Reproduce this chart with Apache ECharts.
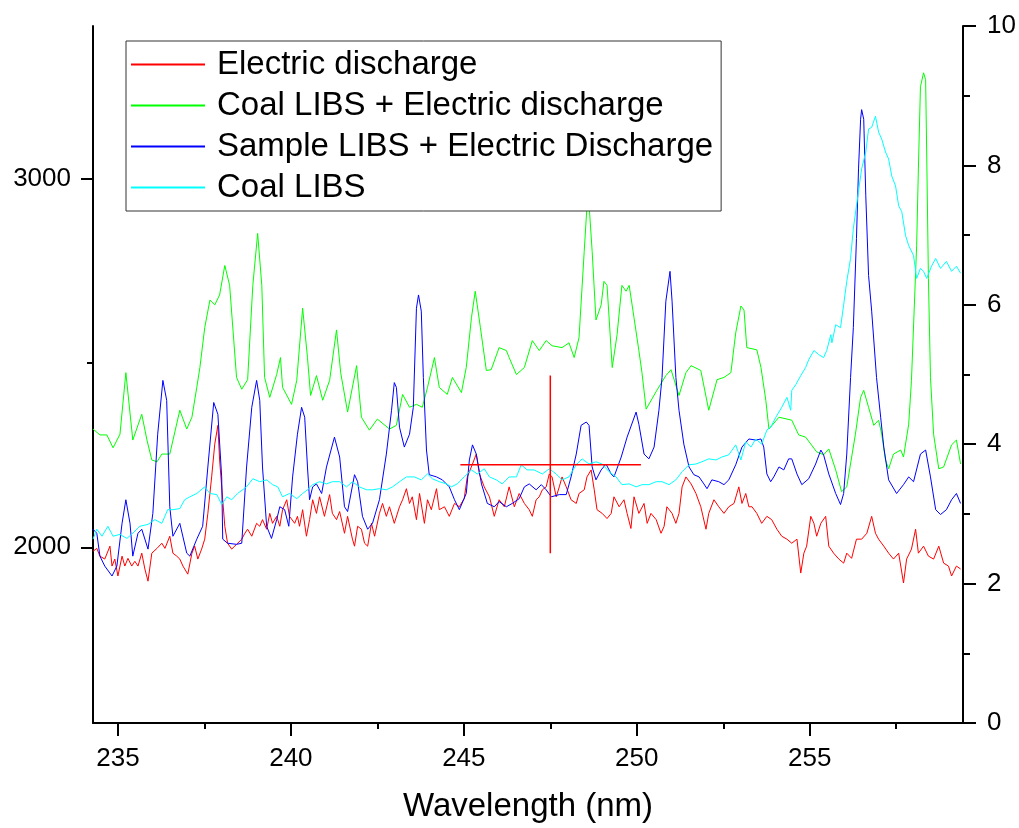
<!DOCTYPE html>
<html>
<head>
<meta charset="utf-8">
<script src="https://cdn.jsdelivr.net/npm/echarts@6/dist/echarts.min.js"></script>
<style>html,body{margin:0;padding:0;background:#fff}#c{width:1019px;height:828px}</style>
</head>
<body>
<div id="c"></div>
<script>
const seriesNames = ['Electric discharge','Coal LIBS + Electric discharge','Sample LIBS + Electric Discharge','Coal LIBS'];
const xLabelValues = [235,240,245,250,255];
const xMinorTickValues = [237.5,242.5,247.5,252.5,257.5];
const yLeftLabelValues = [2000,3000];
const yLeftMinorTickValues = [2500];

const electricDischarge = [[234.28,1989],[234.39,1997],[234.48,1976],[234.62,1968],[234.77,2003],[234.83,1949],[234.91,1968],[235.00,1922],[235.12,1976],[235.20,1949],[235.29,1970],[235.40,1949],[235.49,1962],[235.58,1949],[235.69,1984],[235.78,1941],[235.87,1908],[235.98,1984],[236.13,1997],[236.27,2011],[236.36,1997],[236.50,2030],[236.59,1984],[236.70,1976],[236.79,1968],[236.88,1949],[237.02,1927],[237.14,1984],[237.22,2003],[237.31,1968],[237.42,1995],[237.51,2022],[237.60,2092],[237.71,2191],[237.80,2280],[237.89,2331],[237.94,2237],[238.03,2129],[238.09,2057],[238.17,2011],[238.29,1995],[238.43,2008],[238.58,2022],[238.67,2038],[238.75,2049],[238.87,2030],[239.01,2065],[239.10,2057],[239.18,2075],[239.30,2049],[239.39,2092],[239.47,2065],[239.59,2084],[239.68,2057],[239.76,2102],[239.88,2129],[239.96,2084],[240.11,2065],[240.19,2084],[240.25,2057],[240.34,2102],[240.45,2030],[240.54,2075],[240.63,2129],[240.74,2092],[240.83,2137],[240.97,2084],[241.12,2143],[241.20,2092],[241.32,2075],[241.41,2097],[241.55,2038],[241.64,2084],[241.78,2022],[241.84,2003],[241.93,2057],[242.04,2049],[242.13,2011],[242.22,2003],[242.33,2065],[242.42,2030],[242.56,2092],[242.65,2119],[242.76,2084],[242.85,2110],[242.99,2065],[243.14,2110],[243.23,2129],[243.34,2159],[243.43,2119],[243.51,2137],[243.63,2075],[243.72,2146],[243.86,2065],[243.95,2129],[244.06,2102],[244.21,2159],[244.29,2102],[244.44,2110],[244.58,2084],[244.73,2119],[244.87,2110],[245.01,2132],[245.10,2191],[245.25,2226],[245.36,2253],[245.45,2199],[245.59,2164],[245.74,2137],[245.88,2084],[246.02,2129],[246.17,2110],[246.31,2164],[246.46,2110],[246.60,2146],[246.75,2119],[246.89,2102],[246.98,2084],[247.09,2129],[247.18,2137],[247.27,2156],[247.38,2164],[247.47,2199],[247.55,2191],[247.67,2137],[247.76,2164],[247.84,2191],[247.96,2164],[248.10,2129],[248.25,2119],[248.33,2146],[248.48,2156],[248.56,2191],[248.68,2210],[248.77,2156],[248.85,2102],[249.00,2092],[249.14,2078],[249.26,2092],[249.34,2137],[249.49,2110],[249.63,2129],[249.72,2092],[249.83,2051],[249.92,2137],[250.06,2092],[250.21,2119],[250.30,2065],[250.41,2092],[250.56,2075],[250.70,2038],[250.79,2057],[250.87,2110],[251.02,2092],[251.13,2065],[251.22,2092],[251.31,2164],[251.42,2191],[251.57,2172],[251.71,2146],[251.85,2110],[252.00,2049],[252.08,2092],[252.23,2129],[252.37,2110],[252.52,2092],[252.66,2110],[252.81,2119],[252.95,2164],[253.04,2119],[253.15,2146],[253.24,2110],[253.33,2110],[253.47,2092],[253.61,2065],[253.76,2084],[253.90,2075],[254.05,2049],[254.19,2030],[254.34,2022],[254.48,2011],[254.63,2022],[254.74,1930],[254.83,1984],[254.91,2003],[255.03,2084],[255.12,2065],[255.20,2030],[255.32,2065],[255.46,2084],[255.55,2003],[255.69,1984],[255.84,1968],[255.98,1957],[256.07,1984],[256.21,1970],[256.35,2022],[256.50,2022],[256.65,2038],[256.79,2084],[256.90,2038],[256.99,2022],[257.14,2003],[257.28,1984],[257.42,1968],[257.57,1984],[257.71,1903],[257.80,1968],[257.94,1995],[258.06,2049],[258.14,1984],[258.29,2003],[258.43,1976],[258.58,1968],[258.73,2003],[258.87,1957],[259.01,1949],[259.10,1922],[259.24,1949],[259.36,1941]];

const coalLibsDischarge = [[234.28,2321],[234.48,2305],[234.68,2305],[234.86,2270],[235.06,2307],[235.23,2474],[235.43,2291],[235.69,2361],[235.84,2291],[235.98,2237],[236.13,2232],[236.27,2253],[236.50,2253],[236.79,2372],[236.99,2321],[237.14,2353],[237.28,2434],[237.37,2488],[237.51,2596],[237.66,2671],[237.80,2658],[237.94,2685],[238.09,2765],[238.23,2711],[238.43,2461],[238.58,2429],[238.75,2455],[238.90,2711],[239.04,2852],[239.16,2711],[239.24,2461],[239.39,2407],[239.59,2469],[239.70,2515],[239.76,2434],[240.02,2388],[240.17,2453],[240.34,2649],[240.48,2515],[240.57,2412],[240.74,2466],[240.92,2399],[241.12,2453],[241.32,2590],[241.44,2474],[241.64,2367],[241.90,2493],[242.04,2353],[242.27,2318],[242.50,2348],[242.85,2321],[243.05,2331],[243.23,2415],[243.43,2380],[243.63,2388],[243.80,2380],[243.95,2434],[244.15,2515],[244.29,2434],[244.52,2415],[244.67,2461],[244.93,2420],[245.07,2488],[245.22,2623],[245.33,2695],[245.48,2596],[245.65,2480],[245.79,2482],[246.02,2542],[246.23,2534],[246.31,2515],[246.52,2469],[246.75,2488],[246.98,2561],[247.18,2534],[247.38,2561],[247.55,2547],[247.84,2542],[248.04,2555],[248.19,2515],[248.33,2569],[248.48,2803],[248.59,2973],[248.71,2803],[248.82,2617],[248.97,2658],[249.05,2722],[249.14,2711],[249.29,2488],[249.43,2577],[249.57,2711],[249.69,2695],[249.78,2711],[249.92,2623],[250.06,2534],[250.15,2474],[250.27,2375],[250.58,2426],[250.84,2466],[250.99,2482],[251.22,2412],[251.42,2474],[251.57,2493],[251.85,2480],[252.08,2372],[252.32,2455],[252.52,2461],[252.72,2474],[252.86,2582],[253.01,2655],[253.10,2644],[253.18,2542],[253.47,2536],[253.59,2488],[253.73,2399],[253.82,2321],[254.11,2353],[254.48,2345],[254.68,2305],[254.88,2299],[255.20,2259],[255.40,2251],[255.55,2267],[255.75,2210],[255.92,2151],[256.07,2164],[256.32,2307],[256.47,2407],[256.56,2426],[256.70,2380],[256.85,2331],[256.99,2345],[257.08,2307],[257.19,2237],[257.28,2213],[257.42,2253],[257.63,2264],[257.71,2245],[257.86,2334],[257.94,2453],[258.09,2819],[258.14,3027],[258.20,3250],[258.29,3288],[258.35,3269],[258.38,3073],[258.43,2730],[258.49,2461],[258.58,2307],[258.73,2213],[258.87,2218],[259.10,2278],[259.24,2291],[259.36,2226]];

const sampleLibsDischarge = [[234.28,2049],[234.39,2038],[234.48,1976],[234.62,1949],[234.83,1922],[234.97,1949],[235.12,2065],[235.23,2129],[235.35,2065],[235.43,1976],[235.58,2038],[235.69,2049],[235.87,1995],[236.01,2092],[236.15,2307],[236.30,2453],[236.41,2399],[236.50,2110],[236.59,2030],[236.79,2065],[236.99,1984],[237.08,1976],[237.28,2022],[237.45,2057],[237.60,2218],[237.77,2393],[237.89,2361],[238.00,2191],[238.03,2022],[238.17,2011],[238.43,2008],[238.58,2011],[238.72,2218],[238.87,2380],[239.01,2453],[239.10,2399],[239.18,2218],[239.30,2057],[239.44,2024],[239.59,2075],[239.68,2110],[239.82,2102],[239.94,2057],[240.05,2191],[240.19,2307],[240.31,2380],[240.40,2353],[240.48,2218],[240.54,2129],[240.63,2164],[240.74,2172],[240.89,2146],[241.03,2218],[241.26,2299],[241.41,2245],[241.55,2110],[241.64,2097],[241.84,2197],[241.93,2178],[242.07,2084],[242.22,2049],[242.36,2065],[242.56,2129],[242.76,2253],[242.91,2372],[242.99,2447],[243.05,2434],[243.14,2326],[243.28,2272],[243.43,2307],[243.54,2380],[243.63,2649],[243.69,2685],[243.77,2641],[243.83,2461],[243.92,2264],[244.00,2197],[244.21,2191],[244.38,2183],[244.58,2164],[244.73,2129],[244.87,2102],[245.07,2146],[245.16,2237],[245.25,2278],[245.36,2253],[245.51,2172],[245.68,2119],[245.88,2110],[246.02,2124],[246.23,2110],[246.40,2119],[246.60,2132],[246.75,2164],[246.89,2172],[247.09,2156],[247.24,2170],[247.38,2156],[247.53,2137],[247.76,2143],[247.96,2143],[248.10,2191],[248.25,2253],[248.39,2331],[248.54,2340],[248.62,2331],[248.71,2218],[248.82,2183],[248.97,2210],[249.11,2226],[249.26,2199],[249.34,2191],[249.55,2245],[249.72,2299],[249.98,2367],[250.06,2334],[250.21,2253],[250.35,2240],[250.50,2272],[250.64,2372],[250.73,2461],[250.84,2668],[250.96,2749],[251.02,2668],[251.13,2461],[251.22,2372],[251.36,2280],[251.51,2218],[251.65,2197],[251.80,2191],[251.94,2172],[252.03,2159],[252.17,2183],[252.37,2178],[252.52,2170],[252.66,2183],[252.86,2224],[253.04,2272],[253.24,2294],[253.44,2291],[253.59,2294],[253.67,2272],[253.76,2199],[253.87,2178],[253.96,2191],[254.11,2218],[254.25,2210],[254.39,2240],[254.48,2240],[254.63,2199],[254.77,2170],[254.97,2186],[255.17,2226],[255.32,2264],[255.40,2251],[255.55,2199],[255.75,2146],[255.89,2116],[255.98,2146],[256.07,2253],[256.18,2461],[256.26,2596],[256.35,2838],[256.41,3027],[256.47,3162],[256.50,3188],[256.56,3162],[256.62,2954],[256.70,2738],[256.79,2641],[256.93,2461],[257.05,2353],[257.14,2272],[257.28,2183],[257.51,2146],[257.71,2170],[257.86,2191],[258.00,2178],[258.20,2253],[258.35,2264],[258.49,2191],[258.64,2102],[258.78,2089],[258.95,2102],[259.10,2129],[259.24,2146],[259.36,2119]];

const coalLibs = [[234.28,2022],[234.39,2049],[234.54,2030],[234.71,2057],[234.86,2030],[235.06,2035],[235.26,2024],[235.43,2038],[235.63,2057],[235.87,2062],[236.07,2075],[236.27,2065],[236.44,2102],[236.59,2102],[236.79,2105],[236.93,2129],[237.08,2137],[237.28,2146],[237.51,2164],[237.66,2146],[237.86,2143],[238.00,2116],[238.15,2137],[238.29,2129],[238.46,2146],[238.72,2164],[238.90,2186],[239.10,2178],[239.30,2183],[239.47,2170],[239.62,2164],[239.76,2137],[239.96,2146],[240.17,2132],[240.34,2146],[240.48,2156],[240.63,2170],[240.83,2178],[241.03,2172],[241.20,2178],[241.41,2178],[241.61,2164],[241.78,2178],[241.98,2164],[242.19,2156],[242.36,2156],[242.56,2159],[242.76,2156],[242.94,2164],[243.14,2178],[243.34,2191],[243.57,2191],[243.77,2183],[243.95,2199],[244.09,2186],[244.29,2178],[244.50,2172],[244.64,2164],[244.81,2172],[245.01,2191],[245.22,2210],[245.39,2199],[245.59,2213],[245.74,2191],[245.94,2183],[246.11,2172],[246.31,2191],[246.52,2191],[246.66,2224],[246.83,2210],[247.03,2210],[247.27,2199],[247.47,2213],[247.67,2199],[247.84,2183],[248.04,2191],[248.25,2224],[248.42,2240],[248.62,2226],[248.82,2232],[249.00,2226],[249.20,2205],[249.40,2191],[249.57,2170],[249.78,2172],[249.98,2164],[250.15,2170],[250.35,2170],[250.56,2178],[250.73,2178],[250.93,2170],[251.13,2183],[251.31,2205],[251.51,2224],[251.71,2226],[251.88,2232],[252.08,2240],[252.29,2237],[252.46,2245],[252.66,2251],[252.86,2278],[253.01,2237],[253.15,2286],[253.30,2272],[253.44,2294],[253.61,2280],[253.76,2318],[253.87,2326],[254.02,2353],[254.19,2380],[254.34,2407],[254.45,2372],[254.48,2426],[254.60,2442],[254.74,2466],[254.88,2488],[254.97,2509],[255.12,2534],[255.26,2523],[255.40,2515],[255.49,2534],[255.61,2577],[255.64,2555],[255.75,2604],[255.89,2596],[255.98,2658],[256.07,2722],[256.18,2784],[256.26,2865],[256.35,2927],[256.50,3027],[256.62,3073],[256.70,3135],[256.79,3140],[256.90,3170],[256.99,3127],[257.08,3108],[257.19,3073],[257.28,3054],[257.37,3008],[257.48,2981],[257.57,2927],[257.66,2911],[257.77,2846],[257.86,2819],[258.00,2792],[258.09,2730],[258.20,2757],[258.29,2749],[258.38,2730],[258.52,2763],[258.64,2784],[258.78,2757],[258.95,2776],[259.10,2749],[259.24,2763],[259.36,2744]];

const crossHorizontal = [[244.90,2224],[250.12,2224]];
const crossVertical = [[247.50,2466],[247.50,1984]];

const FONT = '"Liberation Sans", Arial, sans-serif';
const chart = echarts.init(document.getElementById('c'), null, {renderer:'canvas'});
const axisLineStyle = {color:'#000', width:2};
const lbl = {color:'#000', fontSize:26, fontFamily:FONT, formatter: v => String(v)};
const XMIN = 234.28, XMAX = 259.43, YMIN = 1523, YMAX = 3415;

function lineSeries(name, data, color) {
  return {name, type:'line', data, symbol:'none', showSymbol:false, xAxisIndex:0, yAxisIndex:0,
          lineStyle:{color, width:1}, itemStyle:{color}, animation:false, z:2};
}

chart.setOption({
  animation:false,
  backgroundColor:'#fff',
  grid:{left:93, right:56, top:26, bottom:100, containLabel:false},
  legend:{
    orient:'vertical', left:126, top:41, itemWidth:74, itemHeight:2, itemGap:0, icon:'rect',
    padding:[3,8,3,5], borderColor:'#333', borderWidth:1, backgroundColor:'#fff',
    textStyle:{fontSize:33, fontFamily:FONT, color:'#000', lineHeight:41, padding:[0,0,0,7]},
    data:seriesNames, z:10
  },
  xAxis:[
    {type:'value', position:'bottom', min:XMIN, max:XMAX,
     axisLine:{show:true, onZero:false, lineStyle:axisLineStyle},
     axisTick:{show:true, customValues:xLabelValues, length:13, lineStyle:axisLineStyle},
     axisLabel:{...lbl, customValues:xLabelValues, margin:23},
     splitLine:{show:false},
     name:'Wavelength (nm)', nameLocation:'middle', nameGap:67,
     nameTextStyle:{fontSize:33, fontFamily:FONT, color:'#000'}},
    {type:'value', position:'bottom', min:XMIN, max:XMAX,
     axisLine:{show:false, onZero:false},
     axisTick:{show:true, customValues:xMinorTickValues, length:6, lineStyle:axisLineStyle},
     axisLabel:{show:false}, splitLine:{show:false}}
  ],
  yAxis:[
    {type:'value', position:'left', min:YMIN, max:YMAX,
     axisLine:{show:true, onZero:false, lineStyle:axisLineStyle},
     axisTick:{show:true, customValues:yLeftLabelValues, length:12, lineStyle:axisLineStyle},
     axisLabel:{...lbl, customValues:yLeftLabelValues, margin:22},
     splitLine:{show:false}},
    {type:'value', position:'right', min:0, max:10, interval:2,
     axisLine:{show:true, onZero:false, lineStyle:axisLineStyle},
     axisTick:{show:true, length:13, lineStyle:axisLineStyle},
     minorTick:{show:true, splitNumber:2, length:7, lineStyle:axisLineStyle},
     axisLabel:{...lbl, margin:24},
     splitLine:{show:false}, minorSplitLine:{show:false}},
    {type:'value', position:'left', min:YMIN, max:YMAX,
     axisLine:{show:false, onZero:false},
     axisTick:{show:true, customValues:yLeftMinorTickValues, length:6, lineStyle:axisLineStyle},
     axisLabel:{show:false}, splitLine:{show:false}}
  ],
  series:[
    lineSeries(seriesNames[0], electricDischarge, '#ff0000'),
    lineSeries(seriesNames[1], coalLibsDischarge, '#00ff00'),
    lineSeries(seriesNames[2], sampleLibsDischarge, '#0000ff'),
    lineSeries(seriesNames[3], coalLibs, '#00ffff'),
    {type:'line', data:crossHorizontal, symbol:'none', lineStyle:{color:'#ff0000', width:1.5}, z:3, silent:true},
    {type:'line', data:crossVertical, symbol:'none', lineStyle:{color:'#ff0000', width:1.5}, z:3, silent:true}
  ]
});
</script>
</body>
</html>
